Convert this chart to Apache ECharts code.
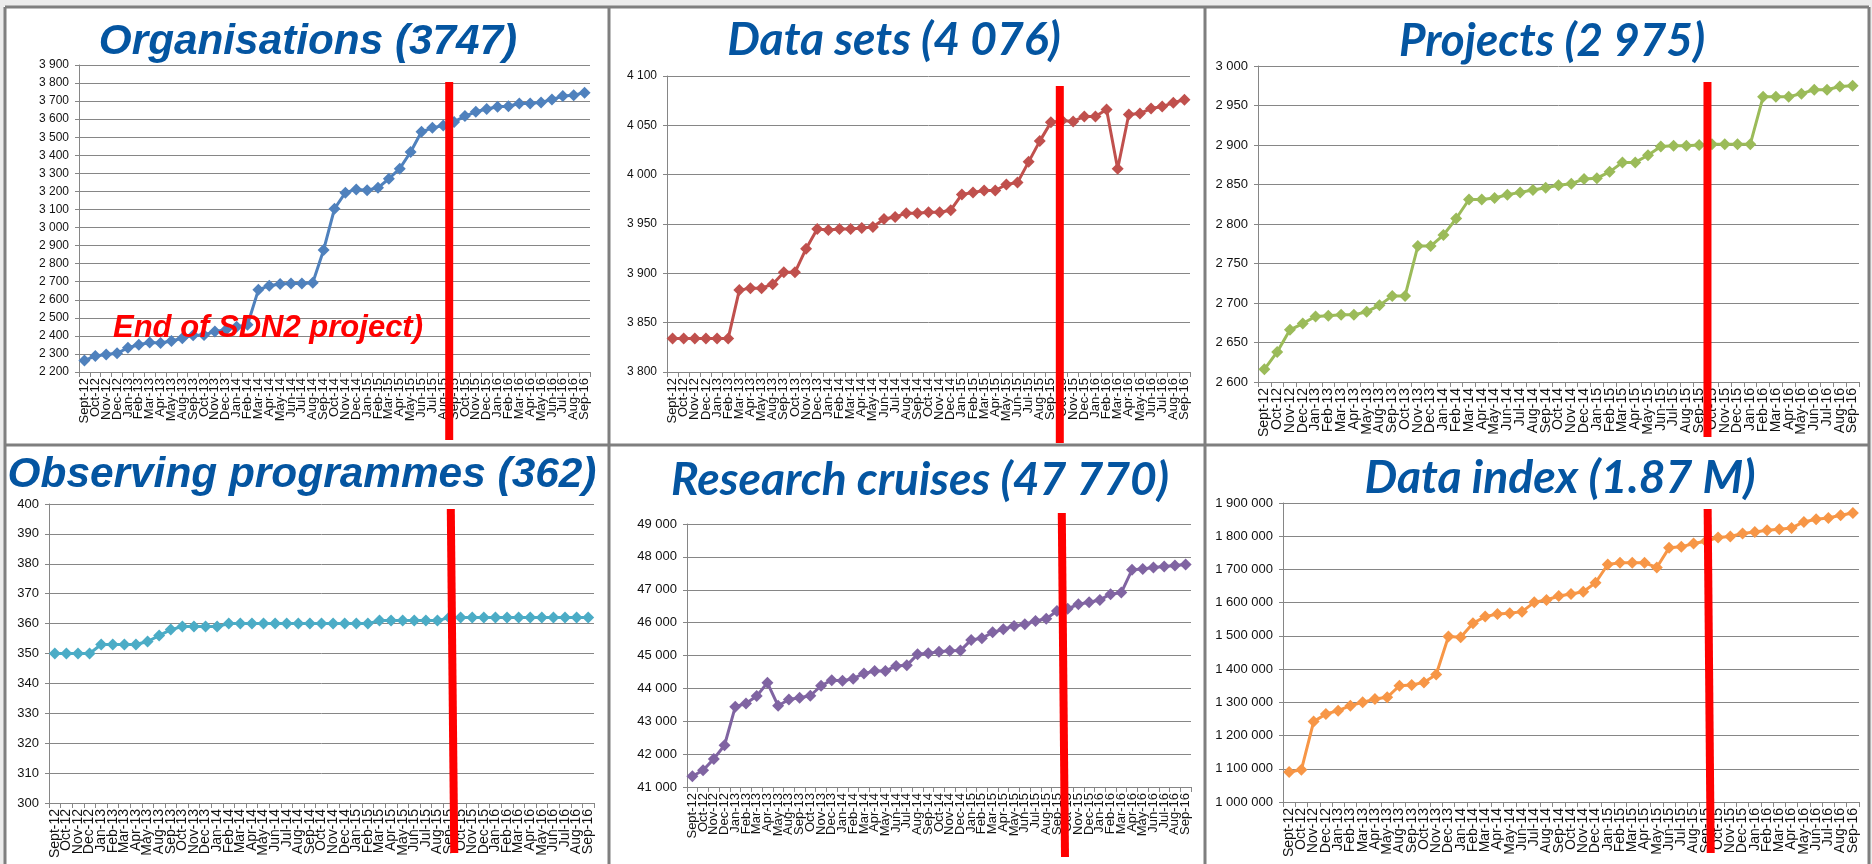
<!DOCTYPE html>
<html><head><meta charset="utf-8">
<script src="https://cdn.jsdelivr.net/npm/echarts@6/dist/echarts.min.js"></script>
<style>html,body{margin:0;padding:0;background:#fff}#c{width:1872px;height:864px}</style>
</head><body><div id="c"></div>
<script>
const months = ['Sept-12','Oct-12','Nov-12','Dec-12','Jan-13','Feb-13','Mar-13','Apr-13','May-13','Aug-13','Sep-13','Oct-13','Nov-13','Dec-13','Jan-14','Feb-14','Mar-14','Apr-14','May-14','Jun-14','Jul-14','Aug-14','Sep-14','Oct-14','Nov-14','Dec-14','Jan-15','Feb-15','Mar-15','Apr-15','May-15','Jun-15','Jul-15','Aug-15','Sep-15','Oct-15','Nov-15','Dec-15','Jan-16','Feb-16','Mar-16','Apr-16','May-16','Jun-16','Jul-16','Aug-16','Sep-16'];

const organisations = [2263,2289,2297,2304,2334,2351,2363,2361,2372,2387,2404,2405,2424,2432,2450,2462,2655,2678,2687,2690,2690,2694,2876,3104,3193,3211,3206,3220,3270,3326,3418,3530,3552,3565,3585,3617,3641,3656,3669,3672,3687,3687,3693,3709,3728,3733,3747];
const dataSets = [3834,3834,3834,3834,3834,3834,3883,3885,3885,3889,3901,3901,3925,3945,3944,3945,3945,3946,3947,3955,3957,3961,3961,3962,3962,3964,3980,3982,3984,3984,3990,3992,4013,4034,4053,4055,4054,4059,4059,4066,4006,4061,4062,4067,4069,4073,4076];
const projects = [2616,2638,2666,2674,2683,2684,2685,2685,2689,2697,2709,2709,2772,2772,2786,2807,2831,2831,2833,2837,2840,2843,2846,2849,2851,2857,2858,2866,2878,2878,2887,2898,2899,2899,2900,2901,2901,2901,2901,2961,2961,2961,2965,2970,2970,2974,2975];
const observing = [350,350,350,350,353,353,353,353,354,356,358,359,359,359,359,360,360,360,360,360,360,360,360,360,360,360,360,360,361,361,361,361,361,361,362,362,362,362,362,362,362,362,362,362,362,362,362];
const cruises = [41325,41508,41855,42270,43440,43540,43765,44170,43470,43660,43715,43775,44080,44250,44230,44295,44455,44525,44530,44680,44700,45035,45065,45115,45145,45150,45475,45525,45705,45800,45900,45950,46050,46115,46355,46420,46560,46620,46690,46865,46915,47605,47630,47680,47710,47740,47770];
const dataIndex = [1090000,1097000,1242000,1265000,1275000,1290000,1300000,1310000,1315000,1350000,1352000,1360000,1384000,1498000,1496000,1538000,1558000,1566000,1568000,1573000,1601000,1608000,1620000,1626000,1633000,1660000,1715000,1720000,1720000,1720000,1706000,1765000,1768000,1778000,1785000,1796000,1799000,1808000,1813000,1818000,1821000,1825000,1843000,1851000,1855000,1863000,1870000];

const titles = ['Organisations (3747)','Data sets (4 076)','Projects (2 975)','Observing programmes (362)','Research cruises (47 770)','Data index (1.87 M)'];
const seriesData = [organisations, dataSets, projects, observing, cruises, dataIndex];
const colors = ['#4F81BD','#C0504D','#9BBB59','#4BACC6','#8064A2','#F79646'];
const yMin = [2200,3800,2600,300,41000,1000000];
const yMax = [3900,4100,3000,400,49000,1900000];
const yStep = [100,50,50,10,1000,100000];
const noteText = 'End of SDN2 project)';

// layout (pixels)
const layout = [
  {grid:{left:79,top:65,width:511,height:307}, tFont:'"Liberation Sans"', tW:418, tX:308, tBase:57, yF:12, xF:13, red:[34.05,34.05,82,440]},
  {grid:{left:667,top:76,width:523,height:296}, tFont:'Lato', tW:334, tX:894, tBase:56, yF:12, xF:13, red:[35.3,35.3,86,443]},
  {grid:{left:1258,top:66,width:601,height:316}, tFont:'Lato', tW:306, tX:1552, tBase:57, yF:13, xF:14, red:[35.15,35.15,82,437]},
  {grid:{left:49,top:504,width:545,height:299}, tFont:'"Liberation Sans"', tW:589, tX:302, tBase:490, yF:13, xF:14, red:[34.65,34.95,509,853]},
  {grid:{left:687,top:524,width:504,height:263}, tFont:'Lato', tW:498, tX:920, tBase:496, yF:13, xF:13, red:[34.95,35.25,513,857]},
  {grid:{left:1283,top:503,width:576,height:299}, tFont:'Lato', tW:391, tX:1560, tBase:494, yF:13, xF:14, red:[34.65,34.9,509,853]}
];

const fmt = v => String(v).replace(/\B(?=(\d{3})+(?!\d))/g, ' ');
const axisGray = '#868686';

const option = {
  animation:false,
  backgroundColor:'#ffffff',
  grid: layout.map(l => Object.assign({containLabel:false}, l.grid)),
  xAxis: layout.map((l,i) => ({
    type:'category', gridIndex:i, data:months, boundaryGap:true,
    axisLine:{show:true, lineStyle:{color:axisGray, width:1}},
    axisTick:{show:true, interval:0, length:5, lineStyle:{color:axisGray}},
    axisLabel:{interval:0, rotate:90, fontSize:l.xF, fontFamily:'Liberation Sans', color:'#111', margin:6},
    splitLine:{show:false}
  })),
  yAxis: layout.map((l,i) => ({
    type:'value', gridIndex:i, min:yMin[i], max:yMax[i], interval:yStep[i],
    axisLine:{show:true, lineStyle:{color:axisGray, width:1}},
    axisTick:{show:true, length:4, lineStyle:{color:axisGray}},
    axisLabel:{formatter:fmt, fontSize:l.yF, fontFamily:'Liberation Sans', color:'#111', margin:10},
    splitLine:{show:true, lineStyle:{color:'#868686', width:1}}
  })),
  series: seriesData.map((d,i) => ({
    type:'line', xAxisIndex:i, yAxisIndex:i, data:d,
    symbol:'diamond', symbolSize:12, showSymbol:true, showAllSymbol:true,
    lineStyle:{width:3, color:colors[i]}, itemStyle:{color:colors[i]}, z:3
  }))
};

const chart = echarts.init(document.getElementById('c'), null, {renderer:'canvas'});
chart.setOption(option);

// fit title font to target width
const cv = document.createElement('canvas').getContext('2d');
function fitSize(text, family, width){
  cv.font = 'italic bold 100px ' + family;
  const w = cv.measureText(text).width;
  return 100 * width / w;
}

const g = [];
g.push({type:'rect', shape:{x:0,y:0,width:1872,height:6}, style:{fill:'#ececec'}, z:0});
g.push({type:'rect', shape:{x:0,y:0,width:4,height:864}, style:{fill:'#ececec'}, z:0});
g.push({type:'rect', shape:{x:1870,y:0,width:2,height:864}, style:{fill:'#ececec'}, z:0});
const fr = {stroke:'#7f7f7f', lineWidth:3};
[[5,7,1869,7],[5,445,1869,445],[5,7,5,864],[609,7,609,864],[1205,7,1205,864],[1869,7,1869,864]].forEach(s => {
  g.push({type:'line', shape:{x1:s[0],y1:s[1],x2:s[2],y2:s[3]}, style:fr, z:1});
});

layout.forEach((l,i) => {
  const fs = fitSize(titles[i], l.tFont, l.tW);
  g.push({type:'text', z:50, style:{text:titles[i], x:l.tX, y:l.tBase - 0.35*fs,
    font:'italic bold ' + fs.toFixed(1) + 'px ' + l.tFont, fill:'#0455A1',
    textAlign:'center', align:'center', textVerticalAlign:'middle', verticalAlign:'middle'}});
  const p0 = chart.convertToPixel({xAxisIndex:i}, 0);
  const p1 = chart.convertToPixel({xAxisIndex:i}, 1);
  const band = p1 - p0;
  const r = l.red;
  const xa = p0 + (r[0]-0.5)*band, xb = p0 + (r[1]-0.5)*band;
  g.push({type:'line', z:100, shape:{x1:xa, y1:r[2], x2:xb, y2:r[3]}, style:{stroke:'#FF0000', lineWidth:8, lineCap:'butt'}});
});

g.push({type:'text', z:90, style:{text:noteText, x:113, y:339 - 0.35*31,
  font:'italic bold 31px "Liberation Sans"', fill:'#FF0000',
  textAlign:'left', align:'left', textVerticalAlign:'middle', verticalAlign:'middle'}});

chart.setOption({graphic:{elements:g}});
</script></body></html>
